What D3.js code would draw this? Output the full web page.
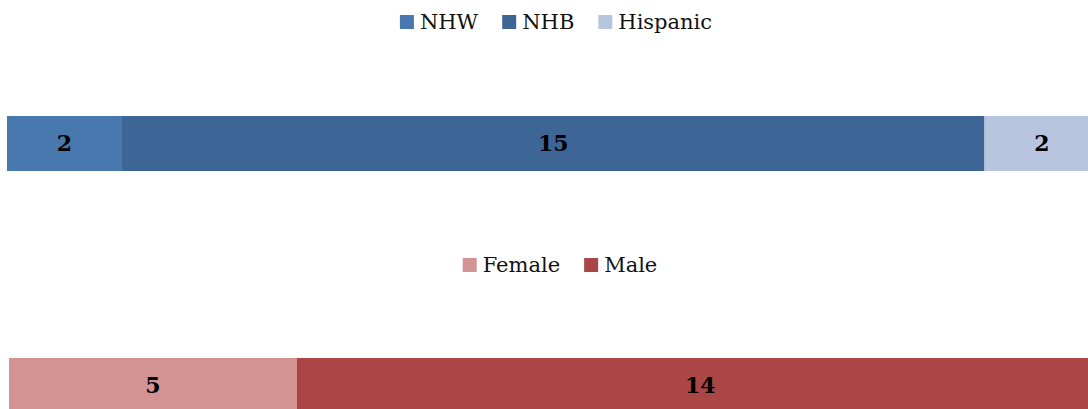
<!DOCTYPE html>
<html>
<head>
<meta charset="utf-8">
<style>
    body { margin: 0; background: #fff; }
    svg { display: block; }
    .lbl { font-family: 'DejaVu Serif', 'Liberation Serif', serif; font-weight: bold; font-size: 22px; fill: #000; }
    .leg { font-family: 'DejaVu Serif', 'Liberation Serif', serif; font-size: 21px; fill: #111; }
</style>
</head>
<body>
<svg width="1088" height="409"></svg>
<script src="https://d3js.org/d3.v7.min.js"></script>
<script>
    //------------------------ DATA ------------------------//
    let raceCats = ["NHW", "NHB", "Hispanic"];
    let raceVals = [2, 15, 2];
    let raceColors = ["#4878ae", "#3d6697", "#b7c5de"];

    let sexCats = ["Female", "Male"];
    let sexVals = [5, 14];
    let sexColors = ["#d39393", "#aa4645"];

    //------------------------ SETUP ------------------------//
    let width = 1088, height = 409;
    let svg = d3.select("svg");

    // one scale per bar (both total 19, slightly different left edge)
    let xRace = d3.scaleLinear().domain([0, d3.sum(raceVals)]).range([7, 7 + 19 * 57.5]);
    let xSex = d3.scaleLinear().domain([0, d3.sum(sexVals)]).range([9, 9 + 19 * 57.6]);

    function stack(vals) {
        let acc = 0;
        return vals.map(v => { let s = acc; acc += v; return {start: s, end: acc, v: v}; });
    }

    function drawBar(vals, colors, x, y0, h) {
        let g = svg.append("g");
        let segs = stack(vals);
        g.selectAll("rect")
            .data(segs)
            .join("rect")
            .attr("x", d => x(d.start))
            .attr("width", d => x(d.end) - x(d.start))
            .attr("y", y0)
            .attr("height", h)
            .style("fill", (d, i) => colors[i]);
        g.selectAll("text")
            .data(segs)
            .join("text")
            .attr("class", "lbl")
            .attr("x", d => (x(d.start) + x(d.end)) / 2)
            .attr("y", y0 + h / 2)
            .attr("dy", "0.36em")
            .attr("text-anchor", "middle")
            .text(d => d.v);
    }

    function drawLegend(cats, colors, cx, baseline) {
        let g = svg.append("g");
        let items = g.selectAll("g")
            .data(cats)
            .join("g");
        items.append("rect")
            .attr("width", 14)
            .attr("height", 14)
            .attr("y", baseline - 14)
            .style("fill", (d, i) => colors[i]);
        let texts = items.append("text")
            .attr("class", "leg")
            .attr("x", 20)
            .attr("y", baseline)
            .text(d => d);
        // lay out horizontally
        let pos = 0, widths = [];
        texts.each(function () { widths.push(this.getComputedTextLength()); });
        let offs = widths.map(w => { let p = pos; pos += 20 + w + 24; return p; });
        let total = pos - 24;
        items.attr("transform", (d, i) => "translate(" + (cx - total / 2 + offs[i]) + ",0)");
    }

    drawLegend(raceCats, raceColors, 556, 29);
    drawBar(raceVals, raceColors, xRace, 116, 55);

    drawLegend(sexCats, sexColors, 560, 272);
    drawBar(sexVals, sexColors, xSex, 358, 55);
</script>
</body>
</html>
